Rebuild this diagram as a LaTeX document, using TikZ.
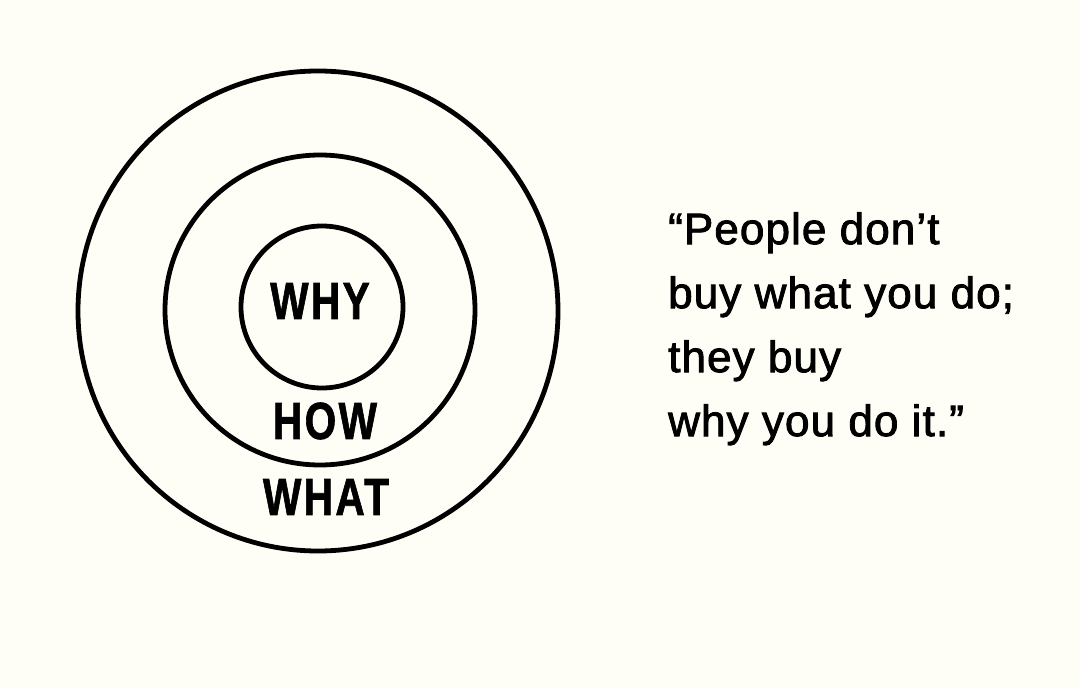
\documentclass[tikz,border=0pt]{standalone}
\usepackage{fontspec}
\setmainfont{Liberation Sans}
\usetikzlibrary{positioning}
\definecolor{paper}{HTML}{FEFEF6}
\newfontfamily\ringfont[LetterSpace=6,FakeBold=1.5]{Liberation Sans}
\newfontfamily\quotefont[LetterSpace=2.5,FakeBold=2]{Liberation Sans}

\begin{document}
\begin{tikzpicture}[x=1pt,y=-1pt,
    ring/.style={circle, draw=black, line width=4.8pt, inner sep=0pt},
    ringlabel/.style={inner sep=0pt, font=\ringfont\bfseries\fontsize{52}{52}\selectfont}]
  % background and bounding box
  \fill[paper] (0,0) rectangle (1080,687);
  \useasboundingbox (0,0) rectangle (1080,687);
  % golden circle
  \node[ring, minimum size=480pt] (outer) at (318,311) {};
  \node[ring, minimum size=310pt] (middle) at (320,310) {};
  \node[ring, minimum size=162pt] (inner) at (322,307) {};
  \node[ringlabel] (why) at (320,301) {\scalebox{0.78}[1]{WHY}};
  \node[ringlabel] (how) at (325,421) {\scalebox{0.78}[1]{HOW}};
  \node[ringlabel] (what) at (326,497) {\scalebox{0.78}[1]{WHAT}};
  % quote
  \node[anchor=north west, inner sep=0pt, align=left,
        font=\quotefont\fontsize{44}{64}\selectfont] (quote) at (668,212)
    {“People don’t\\buy what you do;\\they buy\\why you do it.”};
\end{tikzpicture}
\end{document}
